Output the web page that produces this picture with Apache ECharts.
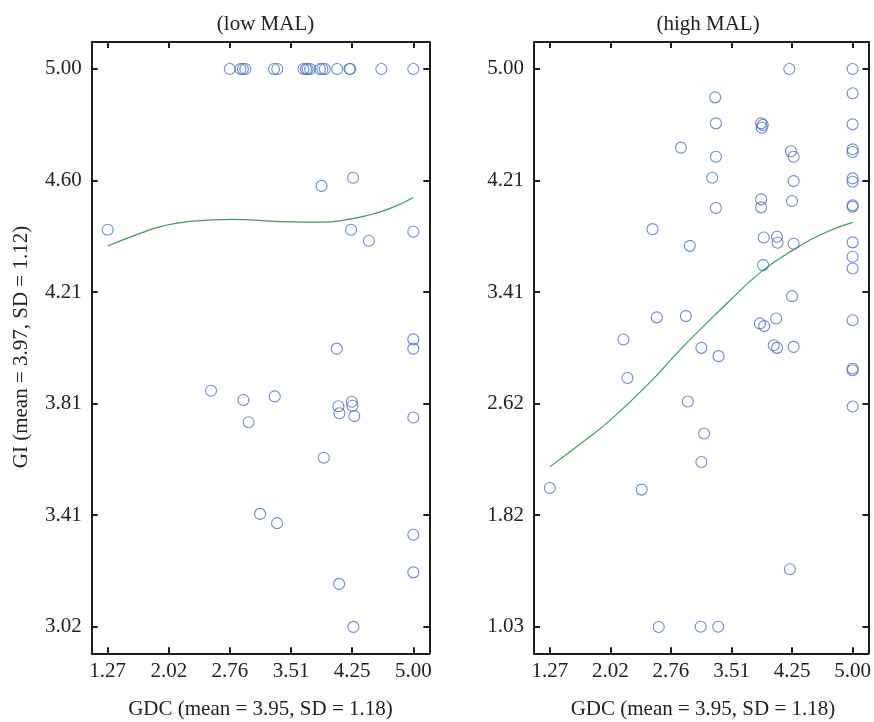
<!DOCTYPE html>
<html>
<head>
<meta charset="utf-8">
<script src="https://cdn.jsdelivr.net/npm/echarts@6/dist/echarts.min.js"></script>
<style>
html,body{margin:0;padding:0;background:#fff;}
#chart{width:874px;height:722px;}
</style>
</head>
<body>
<div id="chart"></div>
<script>
// ---------- data ----------
var panelTitles = ['(low MAL)', '(high MAL)'];
var xTitle = 'GDC (mean = 3.95, SD = 1.18)';
var yTitle = 'GI (mean = 3.97, SD = 1.12)';

var xTicks = [1.27, 2.016, 2.762, 3.508, 4.254, 5.00];
var yTicksLow = [3.016, 3.4128, 3.8096, 4.2064, 4.6032, 5.00];
var yTicksHigh = [1.03, 1.824, 2.618, 3.412, 4.206, 5.00];

var lowX = [2.76, 2.89, 2.92, 2.95, 3.30, 3.34, 3.66, 3.69, 3.71, 3.74, 3.86, 3.89, 3.92, 4.07, 4.22, 4.23, 4.61, 5.00,
  3.88, 4.265, 1.27, 4.24, 4.457, 5.00, 5.00, 5.00, 4.066, 2.531, 2.926, 3.309, 4.086, 4.098, 4.249, 4.256, 4.28, 5.00,
  2.99, 3.907, 3.13, 3.337, 5.00, 5.00, 4.094, 4.269];
var lowY = [5.00, 5.00, 5.00, 5.00, 5.00, 5.00, 5.00, 5.00, 5.00, 5.00, 5.00, 5.00, 5.00, 5.00, 5.00, 5.00, 5.00, 5.00,
  4.584, 4.613, 4.428, 4.428, 4.389, 4.421, 4.038, 4.005, 4.005, 3.855, 3.822, 3.835, 3.80, 3.775, 3.816, 3.802, 3.765, 3.76,
  3.743, 3.617, 3.417, 3.384, 3.343, 3.209, 3.168, 3.015];

var highX = [4.22, 5.00, 5.00, 3.307, 5.00, 3.316, 3.873, 3.893, 3.88, 2.885, 4.24, 4.273, 5.00, 5.00, 3.316, 3.27, 4.273,
  5.00, 5.00, 3.316, 3.873, 3.873, 4.253, 5.00, 5.00, 2.535, 2.994, 3.905, 4.068, 4.076, 4.273, 5.00, 5.00, 5.00, 3.897,
  4.253, 2.588, 2.946, 3.858, 3.911, 4.058, 5.00, 2.177, 3.137, 3.349, 4.028, 4.069, 4.273, 2.226, 5.00, 5.00, 2.97, 5.00,
  3.17, 3.137, 1.27, 2.401, 4.227, 2.612, 3.128, 3.344];
var highY = [5.00, 5.00, 4.827, 4.798, 4.606, 4.613, 4.613, 4.601, 4.582, 4.44, 4.414, 4.375, 4.428, 4.409, 4.375, 4.226, 4.202,
  4.221, 4.197, 4.01, 4.072, 4.015, 4.06, 4.03, 4.02, 3.86, 3.741, 3.80, 3.806, 3.763, 3.756, 3.766, 3.663, 3.58, 3.604,
  3.383, 3.232, 3.241, 3.189, 3.17, 3.224, 3.212, 3.075, 3.015, 2.956, 3.034, 3.015, 3.022, 2.80, 2.868, 2.856, 2.633, 2.598,
  2.405, 2.203, 2.018, 2.006, 1.439, 1.028, 1.03, 1.03];

var lowFitX = [1.27, 1.664, 1.949, 2.275, 2.80, 3.374, 3.90, 4.147, 4.43, 4.717, 5.00];
var lowFitY = [4.370, 4.415, 4.442, 4.458, 4.465, 4.457, 4.455, 4.462, 4.478, 4.504, 4.543];
var highFitX = [1.27, 1.70, 2.043, 2.53, 2.856, 3.165, 3.466, 3.873, 4.28, 4.686, 5.00];
var highFitY = [2.168, 2.355, 2.515, 2.785, 2.99, 3.17, 3.34, 3.556, 3.716, 3.841, 3.908];

// ---------- helpers ----------
function zip(a, b) { return a.map(function (v, i) { return [v, b[i]]; }); }
var FONT = 'Liberation Serif';
var TXT = '#222';
var LINE = '#1e1e1e';
var X_MIN = 1.075, X_MAX = 5.195;
var Y_RANGES = [[2.921, 5.096], [0.841, 5.192]];
var yTickSets = [yTicksLow, yTicksHigh];
var grids = [
  { left: 91.7, top: 42, width: 337.6, height: 611.3 },
  { left: 534, top: 42, width: 337.6, height: 611.3 }
];

function fmt(v) { return Number(v).toFixed(2); }

var xAxes = [], yAxes = [];
grids.forEach(function (g, i) {
  ['bottom', 'top'].forEach(function (pos) {
    xAxes.push({
      type: 'value', gridIndex: i, position: pos, min: X_MIN, max: X_MAX,
      axisLine: { show: true, onZero: false, lineStyle: { color: LINE, width: 2 } },
      axisTick: { show: true, inside: true, length: 6, lineStyle: { color: LINE, width: 2 }, customValues: xTicks },
      axisLabel: { show: pos === 'bottom', customValues: xTicks, formatter: fmt, fontFamily: FONT, fontSize: 21, color: TXT, margin: 8 },
      splitLine: { show: false }
    });
  });
  ['left', 'right'].forEach(function (pos) {
    yAxes.push({
      type: 'value', gridIndex: i, position: pos, min: Y_RANGES[i][0], max: Y_RANGES[i][1],
      axisLine: { show: true, onZero: false, lineStyle: { color: LINE, width: 2 } },
      axisTick: { show: true, inside: true, length: 6, lineStyle: { color: LINE, width: 2 }, customValues: yTickSets[i] },
      axisLabel: { show: pos === 'left', customValues: yTickSets[i], formatter: fmt, fontFamily: FONT, fontSize: 21, color: TXT, margin: 10 },
      splitLine: { show: false }
    });
  });
});

var scatterStyle = { color: 'rgba(0,0,0,0)', borderColor: '#4570c2', borderWidth: 1.1 };
var lineStyle = { color: '#3e9c5e', width: 1.2 };

var option = {
  animation: false,
  backgroundColor: '#fff',
  grid: grids.map(function (g) { return Object.assign({ containLabel: false }, g); }),
  xAxis: xAxes,
  yAxis: yAxes,
  title: [
    { text: panelTitles[0], left: 260.5, top: 9, textAlign: 'center', textStyle: { fontFamily: FONT, fontSize: 21, fontWeight: 'normal', color: TXT } },
    { text: panelTitles[1], left: 703, top: 9, textAlign: 'center', textStyle: { fontFamily: FONT, fontSize: 21, fontWeight: 'normal', color: TXT } }
  ],
  graphic: [
    { type: 'text', x: 260.5, y: 709, style: { text: xTitle, fontFamily: FONT, fontSize: 21, fill: TXT, textAlign: 'center', textVerticalAlign: 'middle' } },
    { type: 'text', x: 703, y: 709, style: { text: xTitle, fontFamily: FONT, fontSize: 21, fill: TXT, textAlign: 'center', textVerticalAlign: 'middle' } },
    { type: 'text', x: 21, y: 347, rotation: Math.PI / 2, style: { text: yTitle, fontFamily: FONT, fontSize: 21, fill: TXT, textAlign: 'center', textVerticalAlign: 'middle' } }
  ],
  series: [
    { type: 'line', xAxisIndex: 0, yAxisIndex: 0, data: zip(lowFitX, lowFitY), smooth: 0.5, showSymbol: false, symbol: 'none', lineStyle: lineStyle, z: 2 },
    { type: 'scatter', xAxisIndex: 0, yAxisIndex: 0, data: zip(lowX, lowY), symbol: 'circle', symbolSize: 11, itemStyle: scatterStyle, z: 3 },
    { type: 'line', xAxisIndex: 2, yAxisIndex: 2, data: zip(highFitX, highFitY), smooth: 0.5, showSymbol: false, symbol: 'none', lineStyle: lineStyle, z: 2 },
    { type: 'scatter', xAxisIndex: 2, yAxisIndex: 2, data: zip(highX, highY), symbol: 'circle', symbolSize: 11, itemStyle: scatterStyle, z: 3 }
  ]
};

var chart = echarts.init(document.getElementById('chart'), null, { renderer: 'canvas' });
chart.setOption(option);
</script>
</body>
</html>
